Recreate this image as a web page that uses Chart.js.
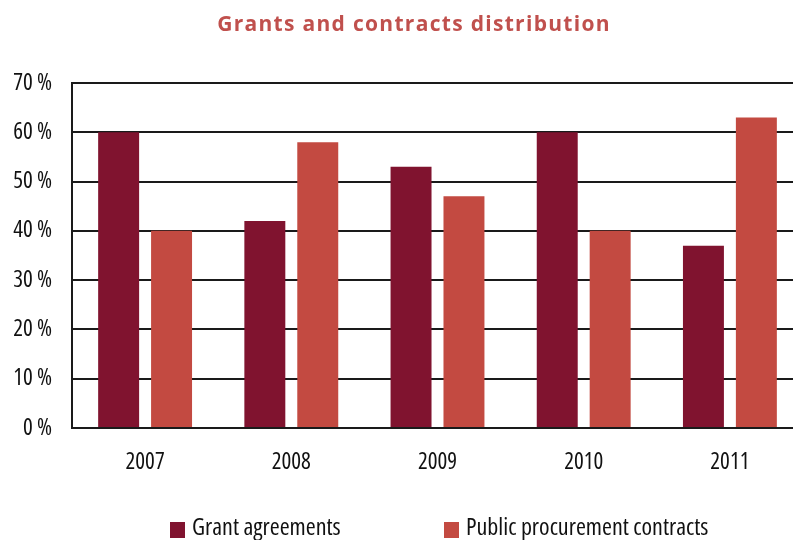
<!DOCTYPE html>
<html>
<head>
<meta charset="utf-8">
<script src="https://cdn.jsdelivr.net/npm/chart.js@4"></script>
<style>
  html, body { margin: 0; padding: 0; background: #fff; overflow: hidden; }
  #wrap { position: relative; width: 803px; height: 540px; }
  #title {
    position: absolute; left: 0; top: 11px; width: 828px;
    text-align: center; line-height: 24px;
    font-family: "Open Sans", sans-serif; font-weight: bold; font-size: 21px;
    letter-spacing: 1.3px; color: #c0504d;
  }
  .legend-item {
    position: absolute; top: 514px; height: 26px; white-space: nowrap;
    font-family: "Open Sans", sans-serif; font-stretch: condensed; font-size: 24px;
    line-height: 24px; color: #111;
  }
  .legend-item span.box {
    position: absolute; left: 0; top: 8px; width: 15px; height: 16px;
  }
  .legend-item span.txt { position: absolute; left: 22px; top: 0; }
</style>
</head>
<body>
<div id="wrap">
  <canvas id="myChart"></canvas>
  <div id="title">Grants and contracts distribution</div>
  <div id="legend"></div>
</div>
<script>
let years = ['2007', '2008', '2009', '2010', '2011'];
let grantShare = [60, 42, 53, 60, 37];
let procurementShare = [40, 58, 47, 40, 63];
let seriesNames = ['Grant agreements', 'Public procurement contracts'];
let colorHex = ['#80132f', '#c34a41'];

let tickFont = { family: '"Open Sans", sans-serif', size: 23, weight: 'normal condensed' };

let ctx = document.getElementById('myChart').getContext('2d');

let myChart = new Chart(ctx, {
  type: 'bar',
  data: {
    labels: years,
    datasets: [{
      label: seriesNames[0],
      data: grantShare,
      backgroundColor: colorHex[0]
    }, {
      label: seriesNames[1],
      data: procurementShare,
      backgroundColor: colorHex[1]
    }]
  },
  options: {
    responsive: true,
    maintainAspectRatio: false,
    animation: false,
    layout: {
      padding: { left: 0, right: 0, top: 83, bottom: 52 }
    },
    categoryPercentage: 0.724,
    barPercentage: 0.774,
    scales: {
      x: {
        grid: { display: false, drawTicks: false },
        border: { display: true, color: '#1a1a1a', width: 2 },
        ticks: {
          color: '#111',
          padding: 21,
          font: tickFont
        },
        afterFit: (scale) => { scale.height = 60; }
      },
      y: {
        min: 0,
        max: 70,
        grid: { color: '#1a1a1a', lineWidth: 2, drawTicks: false },
        border: { display: true, color: '#1a1a1a', width: 2 },
        ticks: {
          stepSize: 10,
          color: '#111',
          padding: 20,
          font: tickFont,
          callback: (value) => value + ' %'
        },
        afterFit: (scale) => { scale.width = 72; }
      }
    },
    plugins: {
      legend: { display: false },
      tooltip: { enabled: false }
    }
  }
});

// html legend, built from the chart datasets
const legendLeft = [170, 444];
const legendBox = document.getElementById('legend');
myChart.data.datasets.forEach((ds, i) => {
  let item = document.createElement('div');
  item.className = 'legend-item';
  item.style.left = legendLeft[i] + 'px';
  item.innerHTML = '<span class="box" style="background:' + ds.backgroundColor + '"></span><span class="txt">' + ds.label + '</span>';
  legendBox.appendChild(item);
});
</script>
</body>
</html>
